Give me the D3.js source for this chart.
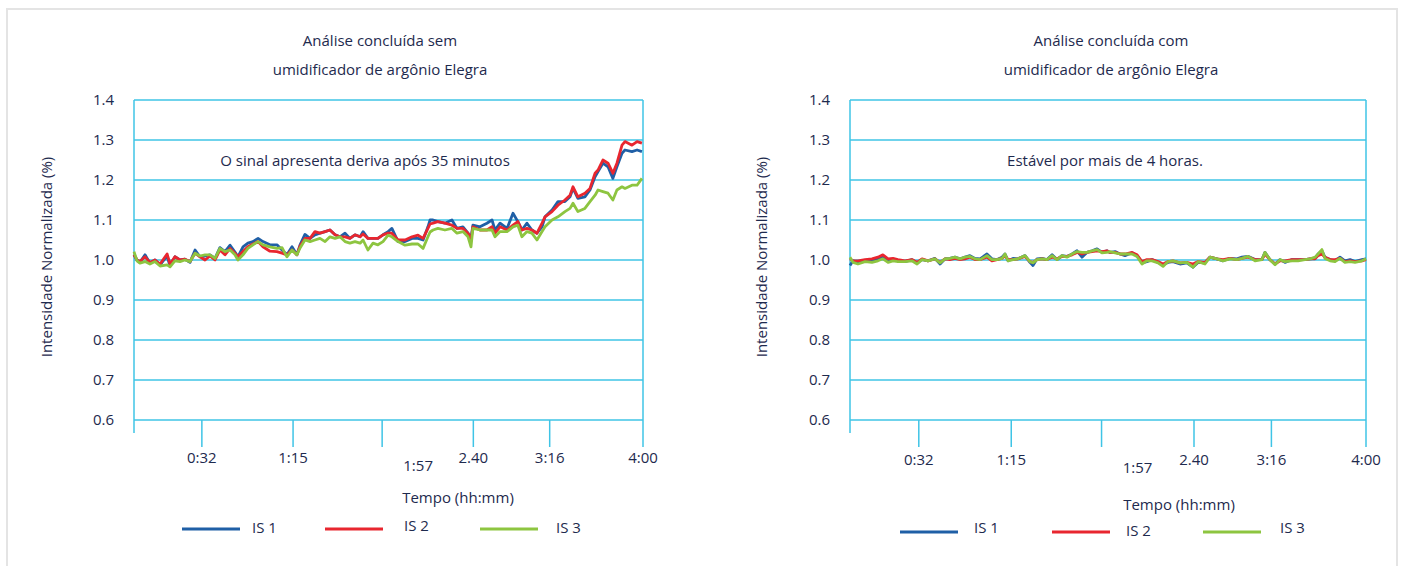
<!DOCTYPE html>
<html>
<head>
<meta charset="utf-8">
<script src="https://cdn.jsdelivr.net/npm/d3@7"></script>
<style>
  body { margin: 0; background: #fff; }
  svg { font-family: "Open Sans", sans-serif; }
</style>
</head>
<body>
<div id="chart"></div>
<script>
// values
const yTicks = [0.6, 0.7, 0.8, 0.9, 1.0, 1.1, 1.2, 1.3, 1.4];
const xTickMinutes = [32, 75, 117, 160, 196, 240];
const xTickLabels = ["0:32", "1:15", "1:57", "2.40", "3:16", "4:00"];
const seriesNames = ["IS 1", "IS 2", "IS 3"];

const leftMinutes = [0,1.4,2.8,5.2,7.5,9.9,12.3,15.6,17,19.3,
  21.7,24,26.4,28.8,31.1,33.5,35.8,38.2,40.5,42.9,
  45.3,47.6,49,51.4,53.7,56.1,58.5,60.8,64.1,67.4,
  69.8,72.1,74.5,76.8,78.3,80.6,83,85.3,87.7,90.1,
  92.4,94.8,97.1,99.5,101.8,104.2,106.6,108,110.3,112.7,
  115,117.4,119.8,121.6,124.5,127.8,131.1,133.9,136.3,138.6,
  139.6,141,143.3,146.6,149.9,152.3,155.1,157.5,158.9,159.8,
  163.1,166.4,168.8,170.2,172.6,175.9,178.7,181,182.9,185.3,
  187.6,190,192.4,193.8,197.1,199.9,203.2,205.6,207,209.3,
  212.6,215,217.4,218.8,221.1,223.5,225.8,227.7,230.1,231.5,
  234.8,237.2,239.5];
const leftIS1 = [1.013,1.0,0.994,1.013,0.992,1.0,0.988,1.01,0.985,1.008,
  1.0,1.002,0.994,1.025,1.008,1.01,1.013,1.004,1.031,1.021,
  1.037,1.02,1.008,1.033,1.042,1.046,1.054,1.046,1.038,1.038,
  1.025,1.013,1.033,1.013,1.038,1.064,1.054,1.063,1.067,1.071,
  1.075,1.063,1.058,1.067,1.054,1.063,1.058,1.071,1.054,1.054,
  1.054,1.063,1.071,1.079,1.046,1.046,1.054,1.054,1.05,1.083,
  1.1,1.1,1.096,1.092,1.1,1.079,1.083,1.067,1.054,1.087,
  1.083,1.092,1.1,1.075,1.092,1.079,1.117,1.096,1.075,1.092,
  1.075,1.067,1.083,1.108,1.125,1.146,1.146,1.158,1.179,1.154,
  1.158,1.175,1.208,1.221,1.242,1.233,1.204,1.233,1.267,1.275,
  1.271,1.275,1.271];
const leftIS2 = [1.013,1.0,0.996,1.008,0.994,1.0,0.99,1.015,0.99,1.008,
  1.0,1.002,0.996,1.017,1.008,1.0,1.01,1.0,1.025,1.013,
  1.029,1.017,1.008,1.021,1.033,1.04,1.046,1.033,1.022,1.021,
  1.017,1.013,1.025,1.013,1.035,1.054,1.054,1.071,1.067,1.071,
  1.075,1.063,1.058,1.058,1.054,1.063,1.058,1.065,1.054,1.054,
  1.054,1.063,1.067,1.067,1.05,1.05,1.058,1.062,1.054,1.079,
  1.09,1.092,1.096,1.092,1.087,1.079,1.079,1.067,1.05,1.083,
  1.075,1.075,1.083,1.067,1.083,1.075,1.087,1.096,1.075,1.079,
  1.075,1.067,1.092,1.108,1.121,1.137,1.15,1.162,1.183,1.158,
  1.167,1.179,1.217,1.225,1.25,1.242,1.217,1.242,1.287,1.296,
  1.287,1.296,1.292];
const leftIS3 = [1.021,0.998,0.992,0.996,0.99,0.996,0.985,0.988,0.983,0.998,
  0.996,1.0,0.996,1.017,1.01,1.013,1.013,1.004,1.029,1.021,
  1.025,1.013,1.0,1.013,1.029,1.038,1.046,1.038,1.033,1.029,
  1.031,1.008,1.025,1.013,1.03,1.05,1.046,1.05,1.054,1.046,
  1.058,1.054,1.058,1.046,1.042,1.046,1.042,1.05,1.025,1.042,
  1.038,1.046,1.062,1.058,1.046,1.037,1.04,1.04,1.029,1.058,
  1.07,1.075,1.079,1.075,1.079,1.067,1.071,1.058,1.033,1.079,
  1.075,1.075,1.075,1.058,1.071,1.071,1.083,1.087,1.058,1.071,
  1.067,1.05,1.071,1.083,1.1,1.108,1.121,1.129,1.142,1.121,
  1.129,1.146,1.162,1.175,1.171,1.167,1.15,1.175,1.183,1.179,
  1.187,1.187,1.204];

const rightMinutes = [0,1.4,3.7,7,10.2,13,15.3,17.7,20,22.3,
  25.6,28.8,31.2,33.5,36.3,39.5,41.9,44.2,46.5,48.8,
  51.2,53.5,55.8,58.1,60.5,63.7,66,68.4,70.7,72.1,
  73.5,75.8,78.1,81.4,83.7,85.1,87,89.3,91.6,94,
  96.3,98.6,100.9,103.3,105.6,107.9,110.2,112.6,114.9,117.2,
  119.5,120.9,123.3,125.6,127.9,131.2,133.5,135.8,138.1,140.5,
  143.3,145.6,147.9,150.2,153.5,156.7,159.5,161.9,165.1,167.4,
  170.7,173.5,176.7,180,182.3,185.1,188.4,191.6,193,195.3,
  197.7,200,202.3,205.6,208.4,211.6,214,216.3,217.7,219.5,
  220.9,223.3,225.6,227.9,230.2,232.6,234.9,238.1,240];
const rightIS1 = [0.986,0.998,0.994,0.998,0.998,1.003,1.007,0.998,1.001,0.998,
  0.996,1.001,0.993,1.001,0.998,1.004,0.99,1.003,1.004,1.007,
  1.003,1.007,1.011,1.004,1.003,1.015,1.003,1.001,1.007,1.015,
  0.998,1.004,1.003,1.011,0.994,0.986,1.003,1.004,1.001,1.013,
  1.001,1.011,1.009,1.015,1.023,1.007,1.019,1.023,1.028,1.019,
  1.023,1.019,1.021,1.015,1.011,1.018,1.011,0.993,0.996,1.001,
  0.994,0.988,0.994,0.996,0.99,0.993,0.982,0.994,0.993,1.007,
  1.003,0.998,1.004,1.003,1.007,1.009,1.001,1.001,1.019,1.001,
  0.99,1.001,0.994,1.001,1.001,1.001,1.003,1.004,1.015,1.023,
  1.007,1.001,0.998,1.007,0.998,1.001,0.996,1.001,1.003];
const rightIS2 = [1.003,0.998,0.998,1.001,1.003,1.007,1.013,1.003,1.004,1.001,
  0.998,1.001,0.994,1.003,0.998,1.003,0.994,1.003,1.001,1.004,
  1.001,1.003,1.007,1.001,1.001,1.007,0.998,1.001,1.004,1.011,
  1.001,1.001,1.003,1.009,0.996,0.994,1.001,1.003,1.001,1.007,
  1.003,1.009,1.009,1.013,1.019,1.015,1.019,1.021,1.023,1.021,
  1.023,1.019,1.019,1.015,1.015,1.019,1.013,0.996,1.001,1.001,
  0.996,0.99,0.996,0.998,0.993,0.994,0.99,0.996,0.994,1.007,
  1.003,1.001,1.004,1.001,1.004,1.007,1.001,1.001,1.015,1.001,
  0.99,0.998,0.998,1.001,1.001,1.001,1.003,1.003,1.011,1.015,
  1.007,1.001,1.001,1.004,0.996,0.998,0.996,0.998,1.001];
const rightIS3 = [1.007,0.994,0.99,0.996,0.994,0.998,1.003,0.994,0.998,0.996,
  0.996,0.998,0.99,1.001,0.998,1.003,0.993,1.003,1.004,1.007,
  1.003,1.007,1.009,1.003,1.001,1.011,1.001,1.001,1.004,1.015,
  0.998,1.001,1.003,1.011,0.996,0.993,1.001,1.003,1.001,1.011,
  1.001,1.011,1.007,1.015,1.021,1.019,1.019,1.023,1.026,1.018,
  1.019,1.021,1.018,1.015,1.015,1.015,1.009,0.99,0.998,0.998,
  0.993,0.984,0.996,0.998,0.993,0.994,0.982,0.996,0.99,1.007,
  1.003,0.998,1.003,1.001,1.004,1.009,0.998,1.001,1.019,1.001,
  0.988,1.001,0.996,0.998,0.998,1.001,1.003,1.007,1.015,1.026,
  1.004,0.998,0.996,1.004,0.994,0.996,0.994,0.998,1.003];

const colors = ["#1f5fa6", "#e8262f", "#8dc540"];
const gridColor = "#3fc4e6";
const textColor = "#1e2a4e";
const fontSize = 15;

const width = 1404, height = 566;
const svg = d3.select("#chart").append("svg")
  .attr("width", width)
  .attr("height", height);

// light frame around the whole figure
svg.append("rect")
  .attr("x", 7).attr("y", 9)
  .attr("width", 1390).attr("height", 570)
  .attr("fill", "none")
  .attr("stroke", "#e4e4e4")
  .attr("stroke-width", 2);

function drawPanel(p) {
  const x = d3.scaleLinear().domain([0, 240]).range([p.x0, p.x1]);
  const y = d3.scaleLinear().domain([0.6, 1.4]).range([420, 100]);
  const g = svg.append("g");

  // titles
  g.selectAll(".title")
    .data(p.title)
    .join("text")
    .attr("x", p.titleX)
    .attr("y", (d, i) => 46 + i * 29)
    .attr("text-anchor", "middle")
    .attr("font-size", fontSize)
    .attr("fill", textColor)
    .text((d) => d);

  // horizontal grid
  g.selectAll(".grid")
    .data(yTicks)
    .join("line")
    .attr("x1", p.x0).attr("x2", p.x1)
    .attr("y1", (d) => y(d)).attr("y2", (d) => y(d))
    .attr("stroke", gridColor)
    .attr("stroke-width", 1.5);

  g.selectAll(".ylab")
    .data(yTicks)
    .join("text")
    .attr("x", p.x0 - 20)
    .attr("y", (d) => y(d))
    .attr("dy", "0.35em")
    .attr("text-anchor", "end")
    .attr("font-size", fontSize)
    .attr("fill", textColor)
    .text((d) => d.toFixed(1));

  // y axis line, runs a bit under the bottom grid
  g.append("line")
    .attr("x1", p.x0).attr("x2", p.x0)
    .attr("y1", y(1.4)).attr("y2", y(0.6) + 13)
    .attr("stroke", gridColor).attr("stroke-width", 1.5);

  // right border + x ticks
  g.append("line")
    .attr("x1", p.x1).attr("x2", p.x1)
    .attr("y1", y(1.4)).attr("y2", y(0.6))
    .attr("stroke", gridColor).attr("stroke-width", 1.5);

  g.selectAll(".xtick")
    .data(xTickMinutes)
    .join("line")
    .attr("x1", (d) => x(d)).attr("x2", (d) => x(d))
    .attr("y1", y(0.6)).attr("y2", y(0.6) + 27)
    .attr("stroke", gridColor).attr("stroke-width", 1.5);

  g.selectAll(".xlab")
    .data(xTickMinutes)
    .join("text")
    .attr("x", (d, i) => x(d) + (i == 2 ? 36 : 0))
    .attr("y", (d, i) => (i == 2 ? 471 : 463) + p.tickShift)
    .attr("text-anchor", "middle")
    .attr("font-size", fontSize)
    .attr("fill", textColor)
    .text((d, i) => xTickLabels[i]);

  // annotation
  g.append("text")
    .attr("x", p.noteX).attr("y", 166)
    .attr("text-anchor", "middle")
    .attr("font-size", fontSize)
    .attr("fill", textColor)
    .text(p.note);

  // axis titles
  g.append("text")
    .attr("x", p.xTitleX).attr("y", p.xTitleY)
    .attr("text-anchor", "middle")
    .attr("font-size", fontSize)
    .attr("fill", textColor)
    .text("Tempo (hh:mm)");

  g.append("text")
    .attr("transform", `translate(${p.yTitleX},257) rotate(-90)`)
    .attr("text-anchor", "middle")
    .attr("font-size", fontSize)
    .attr("fill", textColor)
    .text("Intensidade Normalizada (%)");

  // series
  const line = d3.line()
    .x((d) => x(d[0]))
    .y((d) => y(d[1]));

  p.series.forEach((vals, i) => {
    const pts = p.minutes.map((m, j) => [m, vals[j]]);
    g.append("path")
      .datum(pts)
      .attr("d", line)
      .attr("fill", "none")
      .attr("stroke", colors[i])
      .attr("stroke-width", 2.8)
      .attr("stroke-linejoin", "round");
  });

  // legend
  p.legend.forEach((l, i) => {
    g.append("line")
      .attr("x1", l.x).attr("x2", l.x + 58)
      .attr("y1", l.y).attr("y2", l.y)
      .attr("stroke", colors[i])
      .attr("stroke-width", 3);
    g.append("text")
      .attr("x", l.tx).attr("y", l.ty)
      .attr("dy", "0.35em")
      .attr("font-size", fontSize)
      .attr("fill", textColor)
      .text(seriesNames[i]);
  });
}

drawPanel({
  x0: 134, x1: 643, titleX: 380, noteX: 365,
  title: ["Análise concluída sem", "umidificador de argônio Elegra"],
  note: "O sinal apresenta deriva após 35 minutos",
  tickShift: 0, xTitleX: 458, xTitleY: 503, yTitleX: 52,
  minutes: leftMinutes, series: [leftIS1, leftIS2, leftIS3],
  legend: [
    { x: 182, y: 529, tx: 252, ty: 528 },
    { x: 325, y: 529, tx: 404, ty: 526 },
    { x: 480, y: 529, tx: 556, ty: 528 },
  ],
});

drawPanel({
  x0: 850, x1: 1366, titleX: 1111, noteX: 1105,
  title: ["Análise concluída com", "umidificador de argônio Elegra"],
  note: "Estável por mais de 4 horas.",
  tickShift: 2, xTitleX: 1179, xTitleY: 510, yTitleX: 767,
  minutes: rightMinutes, series: [rightIS1, rightIS2, rightIS3],
  legend: [
    { x: 900, y: 532, tx: 974, ty: 528 },
    { x: 1052, y: 532, tx: 1126, ty: 531 },
    { x: 1203, y: 532, tx: 1280, ty: 528 },
  ],
});
</script>
</body>
</html>
